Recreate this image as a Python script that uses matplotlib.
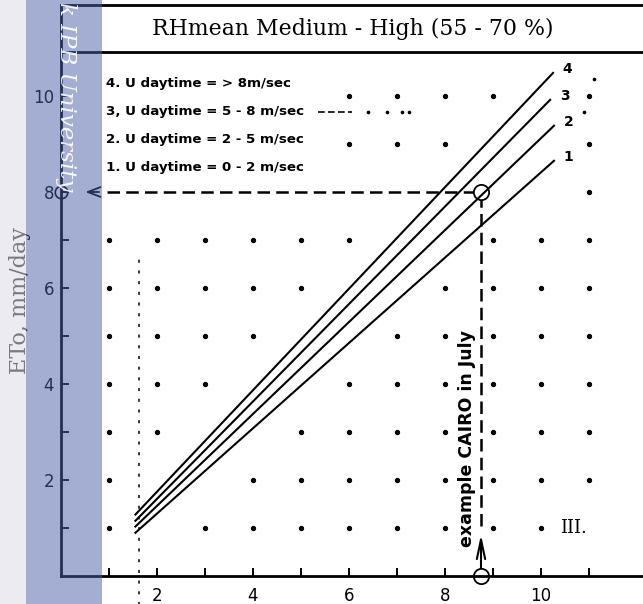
import matplotlib.pyplot as plt
from matplotlib.patches import Rectangle

# wind classes, line end points
wind_class = ['1', '2', '3', '4']
legend_text = ['1. U daytime = 0 - 2 m/sec',
               '2. U daytime = 2 - 5 m/sec',
               '3, U daytime = 5 - 8 m/sec',
               '4. U daytime = > 8m/sec']
x_start = [1.55, 1.55, 1.55, 1.55]
y_start = [0.90, 1.03, 1.15, 1.28]
x_end = [10.27, 10.27, 10.19, 10.25]
y_end = [8.65, 9.38, 9.92, 10.48]

# worked example (Cairo, July)
example_x = 8.75
example_y = 8.0

# grid dots of the chart paper, per row
dot_rows = {
    1: [1, 3, 4, 5, 6, 7, 8, 9, 10],
    2: [1, 4, 5, 6, 7, 8, 9, 10, 11],
    3: [1, 2, 5, 6, 7, 8, 9, 10, 11],
    4: [1, 2, 3, 6, 7, 8, 9, 10, 11],
    5: [1, 2, 3, 4, 7, 8, 9, 10, 11],
    6: [1, 2, 3, 4, 5, 8, 9, 10, 11],
    7: [1, 2, 3, 4, 5, 6, 9, 10, 11],
    8: [11],
    9: [6, 7, 8, 11],
    10: [6, 7, 8, 9, 11],
}
stray_x = [11.1, 10.9, 6.4, 6.8, 7.1, 7.25]
stray_y = [10.35, 9.67, 9.67, 9.67, 9.67, 9.67]

x_ticks = list(range(1, 12))
y_ticks = list(range(1, 11))

W, H = 643, 604
PX = 48.0  # pixels per unit on both axes

fig = plt.figure(figsize=(W / 100, H / 100), dpi=100)
ax = fig.add_axes([61 / W, 28 / H, (W - 61) / W, 571 / H])
ax.set_xlim(0, (W - 61) / PX)
ax.set_ylim(0, 571 / PX)
ax.set_facecolor('white')

ax.spines['right'].set_visible(False)
for s in ['left', 'bottom', 'top']:
    ax.spines[s].set_linewidth(2)

# title box
box_bottom = (576 - 52) / PX
ax.axhline(box_bottom, color='black', lw=2)
ax.text(6.08, (box_bottom + 571 / PX) / 2, 'RHmean Medium - High (55 - 70 %)',
        family='DejaVu Serif', fontsize=15.8, ha='center', va='center')

ax.set_xticks(x_ticks)
ax.set_xticklabels([str(t) if t % 2 == 0 else '' for t in x_ticks])
ax.set_yticks(y_ticks)
ax.set_yticklabels([str(t) if t % 2 == 0 else '' for t in y_ticks])
ax.tick_params(axis='both', direction='in', length=6, width=1.4, labelsize=12)
ax.tick_params(axis='x', pad=8)
ax.tick_params(axis='y', pad=5)

# grid dots
for yy, xs in dot_rows.items():
    ax.plot(xs, [yy] * len(xs), 'o', color='black', ms=2.8, ls='none')
ax.plot(stray_x, stray_y, 'o', color='black', ms=1.6, ls='none')
ax.plot([5.35, 6.06], [9.67, 9.67], color='black', lw=1.2, ls=(0, (4, 2)))

# faint dotted guide near x = 1.6
ax.plot([1.63, 1.63], [-0.6, 6.6], color='black', lw=1.1, ls=(0, (2, 5)),
        clip_on=False)

# the four wind lines
for i in range(4):
    ax.plot([x_start[i], x_end[i]], [y_start[i], y_end[i]], color='black', lw=1.5)
    ax.text(x_end[i] + 0.3, y_end[i] + 0.08, wind_class[i], fontsize=10,
            fontweight='bold', ha='center', va='center')

# legend block
legend_y = [8.52, 9.1, 9.67, 10.27]
for txt, yy in zip(legend_text, legend_y):
    ax.text(0.94, yy, txt, fontsize=9.6, fontweight='bold', ha='left', va='center')

# example path
ax.plot([0.95, example_x - 0.17], [example_y, example_y], color='black', lw=1.8,
        ls=(0, (5, 2.5)))
ax.plot([example_x, example_x], [1.05, example_y - 0.17], color='black', lw=1.8,
        ls=(0, (5, 2.5)))
ax.annotate('', xy=(0.45, example_y), xytext=(0.85, example_y),
            arrowprops=dict(arrowstyle='->,head_length=0.9,head_width=0.35',
                            lw=1.3, color='black'))
ax.annotate('', xy=(example_x, 0.92), xytext=(example_x, 0.12),
            arrowprops=dict(arrowstyle='->,head_length=1.4,head_width=0.3',
                            lw=1.5, color='black'))
ax.plot([example_x], [example_y], 'o', mfc='none', mec='black', ms=11, mew=1.3)
ax.plot([example_x], [0], 'o', mfc='none', mec='black', ms=11, mew=1.3,
        clip_on=False)
ax.plot([0], [example_y], 'o', mfc='none', mec='black', ms=9, mew=1.2,
        clip_on=False)
ax.text(example_x - 0.3, 0.6, 'example CAIRO in July', rotation=90,
        fontsize=12.5, fontweight='bold', ha='center', va='bottom')

ax.text(10.4, 1.0, 'III.', family='DejaVu Serif', fontsize=13, ha='left', va='center')

# scan overlays: left strip and blue band with watermark
fig.add_artist(Rectangle((0, 0), 26 / W, 1, transform=fig.transFigure,
                         color=(0.871, 0.864, 0.914), alpha=0.55, zorder=10, lw=0))
fig.add_artist(Rectangle((26 / W, 0), 76 / W, 1, transform=fig.transFigure,
                         color=(0.29, 0.36, 0.65), alpha=0.5, zorder=10, lw=0))
fig.text(20 / W, 1 - 301 / H, 'ETo, mm/day', rotation=90, family='DejaVu Serif',
         fontsize=16, ha='center', va='center', zorder=5)
fig.text(66 / W, 1 - 2 / H, 'k IPB University', rotation=270,
         family='DejaVu Serif', style='italic', fontsize=16.5, color='white',
         alpha=0.9, ha='center', va='top', zorder=11)

fig.savefig('out.png', dpi=100)
